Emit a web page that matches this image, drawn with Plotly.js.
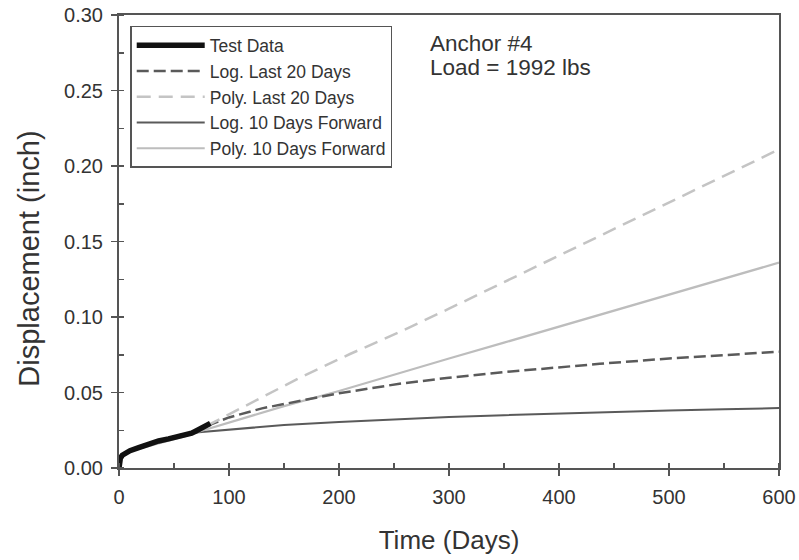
<!DOCTYPE html>
<html>
<head>
<meta charset="utf-8">
<script src="https://cdn.plot.ly/plotly-3.0.1.min.js"></script>
<style>html,body{margin:0;padding:0;background:#fff;}#chart{width:799px;height:560px;}</style>
</head>
<body>
<div id="chart"></div>
<script>
// Test data
var testDays = [0, 0.5, 1.2, 3, 5.7, 10, 17.9, 25, 36, 45, 54, 60, 66, 70, 75.5, 80, 83];
var testDisp = [0, 0.004, 0.0064, 0.0085, 0.0097, 0.0115, 0.0135, 0.0155, 0.0179, 0.0193, 0.0207, 0.0216, 0.023, 0.0245, 0.0267, 0.0285, 0.0296];

// Log. Last 20 Days
var logL20Days = [80, 100, 130, 165, 200, 255, 300, 350, 400, 437, 500, 550, 600];
var logL20Disp = [0.028, 0.0335, 0.0395, 0.0445, 0.0495, 0.0558, 0.0598, 0.0635, 0.0668, 0.069, 0.0725, 0.0748, 0.077];

// Poly. Last 20 Days
var polyL20Days = [80, 120, 165, 210, 255, 300, 350, 400, 437, 500, 550, 600];
var polyL20Disp = [0.028, 0.043, 0.060, 0.0755, 0.090, 0.1055, 0.123, 0.141, 0.154, 0.176, 0.1935, 0.211];

// Log. 10 Days Forward
var log10Days = [70, 100, 150, 200, 250, 300, 350, 400, 450, 500, 550, 600];
var log10Disp = [0.0235, 0.0255, 0.0285, 0.0305, 0.0322, 0.0337, 0.035, 0.0362, 0.0372, 0.0381, 0.0389, 0.0397];

// Poly. 10 Days Forward
var poly10Days = [15, 40, 60, 70, 100, 150, 200, 255, 300, 350, 400, 437, 500, 550, 600];
var poly10Disp = [0.0122, 0.017, 0.021, 0.0235, 0.030, 0.041, 0.051, 0.063, 0.0725, 0.083, 0.0935, 0.1013, 0.115, 0.1255, 0.136];

var xMinorTicks = [50, 150, 250, 350, 450, 550];
var yMinorTicks = [0.025, 0.075, 0.125, 0.175, 0.225, 0.275];

var FONT = 'Liberation Sans, Arial, sans-serif';

var traces = [
  {x: log10Days, y: log10Disp, name: 'Log. 10 Days Forward', mode: 'lines',
   line: {color: '#5a5a5a', width: 2}, legendrank: 4},
  {x: poly10Days, y: poly10Disp, name: 'Poly. 10 Days Forward', mode: 'lines',
   line: {color: '#bdbdbd', width: 2.2}, legendrank: 5},
  {x: logL20Days, y: logL20Disp, name: 'Log. Last 20 Days', mode: 'lines',
   line: {color: '#5a5a5a', width: 2.5, dash: '12px,5px'}, legendrank: 2},
  {x: polyL20Days, y: polyL20Disp, name: 'Poly. Last 20 Days', mode: 'lines',
   line: {color: '#c4c4c4', width: 2.5, dash: '14px,8px'}, legendrank: 3},
  {x: testDays, y: testDisp, name: 'Test Data', mode: 'lines',
   line: {color: '#111111', width: 5.5}, legendrank: 1}
];

var layout = {
  width: 799, height: 560,
  margin: {l: 119, r: 20, t: 15, b: 92},
  paper_bgcolor: '#ffffff', plot_bgcolor: '#ffffff',
  font: {family: FONT, color: '#333'},
  showlegend: true,
  legend: {x: 0.017, y: 0.976, xanchor: 'left', yanchor: 'top', itemwidth: 68,
           bordercolor: '#555', borderwidth: 1.5, bgcolor: '#ffffff',
           font: {family: FONT, size: 17.5, color: '#333'}, traceorder: 'normal'},
  xaxis: {range: [0, 600], dtick: 100, tick0: 0, ticks: 'outside', ticklen: 6, tickwidth: 1.5,
          tickcolor: '#555', showgrid: false, zeroline: false, showline: true, linecolor: '#555',
          linewidth: 2, mirror: true, ticklabelstandoff: 4,
          minor: {dtick: 50, tick0: 0, ticks: 'inside', ticklen: 5, tickwidth: 1.5, tickcolor: '#555', showgrid: false},
          tickfont: {family: FONT, size: 20, color: '#333'},
          title: {text: 'Time (Days)', font: {family: FONT, size: 26, color: '#333'}, standoff: 24}},
  yaxis: {range: [0, 0.30], dtick: 0.05, tick0: 0, tickformat: '.2f', ticks: 'outside', ticklen: 6, tickwidth: 1.5,
          tickcolor: '#555', showgrid: false, zeroline: false, showline: true, linecolor: '#555',
          linewidth: 2, mirror: true, ticklabelstandoff: 4,
          minor: {dtick: 0.025, tick0: 0, ticks: 'inside', ticklen: 5, tickwidth: 1.5, tickcolor: '#555', showgrid: false},
          tickfont: {family: FONT, size: 20, color: '#333'}},
  xaxis2: {overlaying: 'x', side: 'top', range: [0, 600], tickvals: xMinorTicks, ticks: 'inside',
           ticklen: 5, tickwidth: 1.5, tickcolor: '#555', showticklabels: false, showgrid: false,
           zeroline: false, showline: false},
  yaxis2: {overlaying: 'y', side: 'right', range: [0, 0.30], tickvals: yMinorTicks, ticks: 'inside',
           ticklen: 5, tickwidth: 1.5, tickcolor: '#555', showticklabels: false, showgrid: false,
           zeroline: false, showline: false},
  annotations: [
    {xref: 'paper', yref: 'paper', x: -0.1364, y: 0.462, xanchor: 'center', yanchor: 'middle', showarrow: false,
     textangle: -90, text: 'Displacement (inch)', font: {family: FONT, size: 29, color: '#333'}},
    {xref: 'paper', yref: 'paper', x: 0.468, y: 0.9375, xanchor: 'left', yanchor: 'middle', showarrow: false,
     text: 'Anchor #4', font: {family: FONT, size: 22.5, color: '#333'}},
    {xref: 'paper', yref: 'paper', x: 0.468, y: 0.8850, xanchor: 'left', yanchor: 'middle', showarrow: false,
     text: 'Load = 1992 lbs', font: {family: FONT, size: 22.5, color: '#333'}}
  ]
};

Plotly.newPlot('chart', traces, layout, {displayModeBar: false, staticPlot: true});
</script>
</body>
</html>
